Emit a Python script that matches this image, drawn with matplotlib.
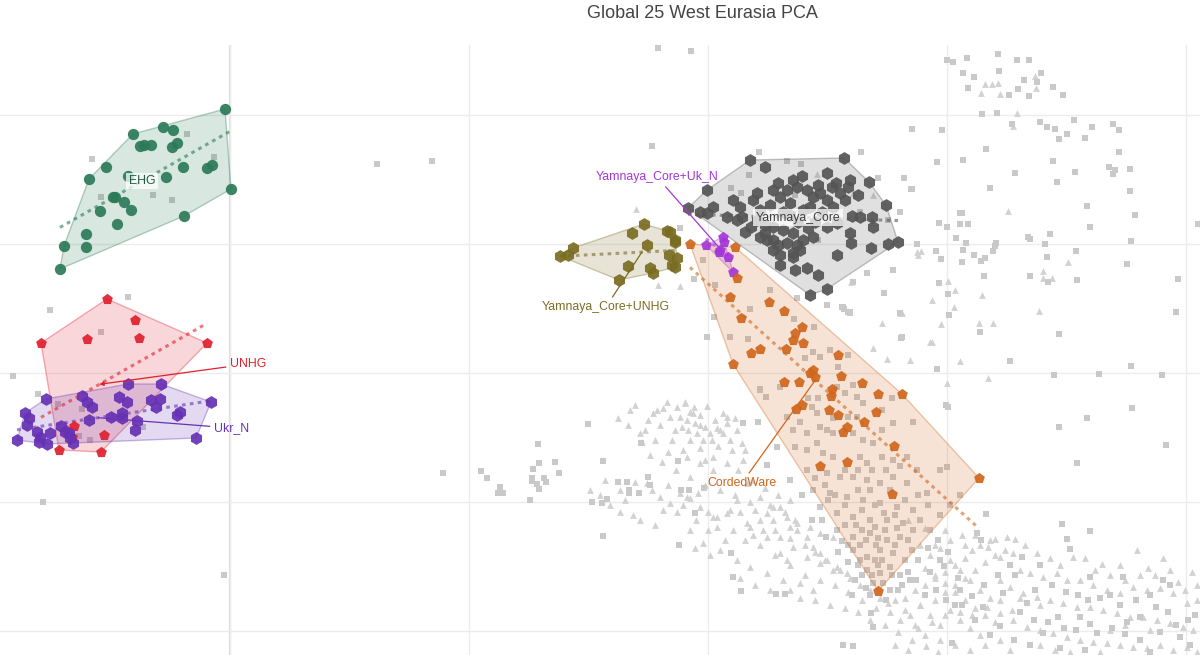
import numpy as np
import matplotlib
matplotlib.use("Agg")
from matplotlib import pyplot as plt

plt.rcParams['font.family'] = ['Liberation Sans', 'DejaVu Sans']

# PC1 / PC2 positions of samples (screen-like units, PC2 axis flipped)
ehg = [(225,109),(231,189),(184,216),(60,269),(64,246),(86,234),(86,247),(117,224),(100,211),
       (115,197),(113,197),(124,202),(131,210),(89,179),(106,167),(133,134),(163,127),(173,130),
       (140,146),(144,145),(151,145),(172,147),(177,143),(183,167),(166,177),(207,168),(212,165),(128,176)]
unhg = [(107,299),(135,320),(41,343),(87,339),(139,338),(207,343),(59,450),(101,452),(104,435),
        (74,426),(72,437),(66,430)]
ukr_n = [(128,384),(161,384),(46,399),(82,396),(87,402),(92,407),(119,397),(127,402),(151,400),
         (160,399),(156,407),(211,402),(25,413),(29,418),(27,425),(177,415),(180,412),(89,420),
         (111,417),(122,413),(122,418),(137,421),(61,426),(135,430),(17,440),(37,432),(40,437),
         (39,442),(47,444),(50,433),(65,432),(69,433),(73,443),(70,438),(196,438)]
yam_core = [(750,160),(765,167),(844,158),(827,173),(836,183),(832,187),(850,180),(848,187),(869,182),
            (886,205),(872,217),(898,242),(888,244),(871,248),(851,243),(852,216),(837,255),(827,289),
            (810,295),(818,275),(807,268),(793,253),(800,250),(780,255),(773,250),(767,240),(760,237),
            (751,227),(757,193),(773,190),(780,197),(787,190),(793,180),(797,187),(807,190),(813,197),
            (820,193),(827,200),(833,207),(810,207),(803,210),(753,200),(760,210),(733,200),(740,207),
            (727,217),(737,220),(707,190),(700,212),(707,213),(713,207),(688,208),(773,227),(783,230),
            (793,233),(803,240),(813,237),(827,227),(837,223),(773,240),(787,243),(793,257),(850,233),
            (860,217),(873,227),(840,193),(757,220),(745,232),(790,215),(815,222),(778,183),(802,176),
            (818,185),(790,203),(765,225),(778,245),(797,245),(808,228),(822,212),(845,200),(858,195),
            (770,205),(783,212),(798,222),(742,217),(780,265),(795,270),(765,233)]
yam_unhg = [(560,256),(568,255),(573,248),(632,233),(644,224),(667,231),(675,240),(670,232),(647,245),
            (628,266),(619,280),(650,268),(653,273),(669,255),(672,265),(677,258),(675,267),(675,242)]
yam_ukn = [(706,245),(723,237),(724,242),(719,252),(728,257),(733,272),(720,250)]
corded = [(690,244),(735,247),(737,278),(730,297),(769,302),(784,311),(741,318),(802,327),(795,333),
          (793,340),(803,343),(786,349),(751,353),(760,349),(733,364),(838,355),(813,370),(810,373),
          (815,377),(841,376),(784,382),(799,382),(862,383),(878,394),(902,394),(832,389),(831,396),
          (802,405),(796,409),(829,410),(838,415),(876,412),(864,422),(847,427),(843,432),(894,446),
          (820,466),(847,462),(979,478),(892,494),(878,591)]

# reference panel (grey)
ref_squares = [
    (377,164),(432,161),(652,146),(658,48),(691,51),(187,134),(92,159),(101,197),(153,195),(172,200),
    (214,157),(128,297),(50,310),(101,332),(13,376),(38,394),(58,404),(82,409),(143,427),(90,440),
    (79,436),(43,502),(224,575),(443,473),(481,471),(487,478),(500,487),(498,493),(503,493),(538,444),
    (539,463),(533,469),(532,478),(532,481),(537,484),(539,489),(544,478),(546,482),(555,462),(559,473),
    (530,500),(588,424),(603,461),(592,502),(602,503),(607,499),(603,536),(618,482),(627,482),(629,490),
    (629,493),(639,493),(648,477),(650,485),(678,461),(679,545),(681,490),(689,490),(695,513),(704,488),
    (733,577),(741,591),(776,594),(785,594),(843,645),(853,646),(871,613),(873,627),(731,553),(743,423),
    (758,422),(760,390),(641,443),
    (947,60),(953,62),(967,58),(998,54),(1017,60),(1029,60),(963,73),(974,77),(999,71),(968,88),
    (1009,95),(1018,89),(1024,80),(1037,82),(1041,73),(1029,96),(1053,87),(1063,95),(982,114),(997,113),
    (1012,124),(1040,122),(1047,127),(1055,129),(1059,139),(1067,134),(1074,120),(1085,138),(1092,127),
    (1113,124),(1119,130),(1119,152),(912,129),(942,130),(986,149),(937,162),(963,160),(1053,161),
    (1015,173),(1075,172),(1109,167),(1115,170),(1113,174),(1130,169),(904,178),(912,189),(990,188),
    (1057,182),(1130,191),(1087,206),(1135,215),(960,213),(962,213),(939,223),(947,227),(960,224),
    (968,224),(1090,227),(1198,224),(956,238),(966,243),(917,244),(936,251),(941,259),(963,250),
    (962,262),(974,255),(981,261),(985,258),(993,251),(995,246),(996,243),(1028,237),(1030,239),
    (1050,234),(1045,244),(1047,257),(1076,251),(1131,241),(1127,264),(984,276),(1030,276),(1048,282),
    (1077,280),(939,283),(948,294),(949,315),(980,332),(1059,334),(1178,279),(1176,312),(902,337),
    (759,152),(861,152),(787,161),(801,164),(749,175),(731,188),(878,178),(911,189),(741,193),(900,212),
    (860,212),(680,228),(818,240),(888,220),(867,273),(884,293),(853,282),(900,313),(842,307),(850,313),
    (795,195),
    (703,260),(694,279),(715,285),(770,290),(797,298),(750,309),(714,317),(707,337),(730,337),(748,339),
    (794,319),(814,327),(844,309),(850,312),(827,305),(813,352),(820,357),(805,358),(830,350),(848,355),
    (838,367),(760,389),(766,397),(780,387),(808,398),(818,398),(837,387),(853,385),(845,393),(857,397),
    (863,403),(892,398),(882,410),(848,417),(857,417),(812,407),(817,413),(787,417),(800,422),(833,418),
    (820,427),(827,430),(833,433),(853,433),(863,440),(873,443),(793,430),(807,433),(882,430),(893,423),
    (913,422),(882,457),(893,460),(907,457),(795,447),(807,450),(817,443),(823,453),(833,457),(860,457),
    (867,463),(777,447),(767,465),(807,470),(827,473),(840,477),(853,477),(867,480),(880,483),(893,477),
    (907,483),(917,470),(927,493),(940,470),(947,467),(813,490),(830,493),(847,497),(863,500),(880,503),
    (897,507),(913,510),(820,507),(837,513),(853,517),(870,520),(887,520),(903,523),(837,530),(853,537),
    (870,533),(887,540),(900,537),(913,530),(853,550),(867,557),(880,550),(893,553),(867,570),(880,573),
    (890,567),(873,583),(883,583),(845,525),(860,545),(875,560),(895,545),(905,560),(875,527),(862,510),
    (884,513),(897,528),(842,541),(858,565),(900,575),(890,590),(870,595),(855,580),
    (917,244),(936,251),(884,293),(893,270),(901,338),(946,405),(937,369),(843,307),(848,312),
    (1010,361),(1131,366),(1054,375),(1099,374),(1162,375),(948,407),(1132,408),(1087,418),(1059,427),
    (1166,445),(1077,463),(986,514),(1062,524),(1090,531),(1067,539),(1070,549),(981,540),(977,533),
    (1123,577),(1090,577),(1150,595),(1163,580),(1170,585),(1110,595),(1140,617),(1127,622),(1080,617),
    (1058,617),(1027,603),(1003,593),(983,607),(955,605),(990,635),(952,643),(1043,633),(1097,633),
    (1180,637),(910,580),(925,595),(940,560),(960,590),(975,620),(1015,575),(1035,590),(1195,615),
    (812,520),(826,537),(838,552),(848,562),(862,575),(878,565),(866,588),(852,595),(886,600),(898,590),
    (908,572),(918,560),(928,548),(938,540),(948,552),(916,580),(930,572),(944,566),(958,578),(936,590),
    (946,600),(962,605),(972,596),(984,585),(998,575),(1010,565),(1022,557),(1040,565),(1052,585),
    (1066,592),(1078,595),(1088,600),(1100,598),(1120,605),(1136,600),(1156,607),(1168,612),(1188,620),
    (1020,612),(1034,620),(1048,622),(1064,628),(1076,630),(1090,624),(1112,628),(1125,634),(1140,640),
    (1160,632),(1176,625),(1190,645),(1000,626),(1014,640),(1030,645),(1060,648),(1085,650),(1150,652),
    (790,480),(802,495),(828,500),(858,490),(872,470),(886,470),(900,466),(875,505),(908,540),(822,520),
    (845,505),(856,525),(866,540),(876,545),(885,530),(895,515),(905,500),(918,495),(928,505),(848,545),
    (860,560),(872,575),(882,560),(892,575),(902,585),(912,550),(920,520),(930,530),(940,515),(950,505),
    (960,495),(835,495),(825,485),(815,478),(845,470),(858,470),(870,490),(890,490),(862,530),(878,538)]
ref_triangles = [
    (630,410),(640,433),(645,430),(653,413),(657,410),(663,408),(670,417),(677,407),(680,417),(685,402),
    (687,420),(690,412),(695,423),(700,415),(705,427),(707,406),(712,440),(717,428),(723,413),(727,423),
    (732,450),(737,430),(642,442),(668,452),(683,450),(690,440),(697,433),(723,433),(742,443),(713,457),
    (705,460),
    (590,490),(620,512),(633,515),(635,482),(647,483),(652,490),(660,497),(670,503),(663,510),(677,512),
    (680,493),(690,498),(698,493),(708,512),(713,517),(717,527),(727,513),(737,500),(740,512),(750,527),
    (753,535),(767,513),(773,520),(780,507),(787,517),(790,527),(797,530),(807,537),(813,547),(820,553),
    (827,560),(837,567),(847,573),(767,537),(780,553),(787,560),(797,523),(810,527),(820,533),(833,537),
    (685,403),(693,413),(688,430),(703,440),(720,430),(727,417),(687,457),(700,463),(713,470),(727,463),
    (743,460),(747,483),(760,497),(773,507),(687,497),(700,507),(717,517),(730,510),(747,523),(763,530),
    (780,537),(793,547),(807,557),(820,563),(833,570),(690,530),(703,543),(720,550),(737,560),(750,567),
    (767,573),(783,580),(800,583),(813,590),
    (770,505),(785,512),(795,520),(760,520),(775,530),(790,538),(805,545),(815,552),(825,560),(840,570),
    (850,578),(860,585),(870,590),(880,598),(895,600),(905,598),(915,590),(925,585),(935,578),(945,572),
    (955,565),(965,558),(972,550),(980,545),(990,540),(905,610),(920,605),(935,600),(945,592),(955,585),
    (965,578),(975,570),(985,562),(995,555),(1005,550),(890,612),(900,620),
    (920,545),(930,555),(940,548),(950,560),(960,570),(970,580),(980,590),(990,598),(925,568),(935,575),
    (945,583),(955,592),(965,600),(975,608),(985,615),(995,622),(950,610),(960,620),(970,628),(980,635),
    (940,625),(930,615),(920,605),(910,615),(915,625),(925,635),(940,640),(955,645),(970,650),(985,645),
    (1000,640),(1010,650),
    (995,539),(1007,537),(1015,539),(988,547),(1000,557),(1013,553),(1037,553),(1050,558),(1073,557),
    (1085,558),(1102,564),(1120,565),(1137,550),(1148,568),(1163,558),(1178,582),(1192,572),
    (1020,570),(1030,573),(1043,577),(1057,573),(1067,580),(1080,580),(1093,585),(1107,590),(1120,593),
    (1133,587),(1147,590),(1160,588),(1173,593),(1187,603),(1197,600),
    (1000,580),(1010,587),(1023,593),(1037,597),(1050,600),(1063,603),(1077,607),(1090,607),(1103,610),
    (1117,613),(1130,617),(1143,617),(1157,620),(1170,623),(1183,627),(1193,630),
    (987,607),(1000,613),(1013,620),(1027,627),(1040,630),(1053,633),(1067,637),(1080,640),(1093,642),
    (1107,643),(1120,645),(1133,647),(1147,648),(1160,645),(1173,650),(1187,647),(1197,652),
    (985,84),(992,84),(998,83),(981,93),(1000,94),(1035,76),(1036,88),(1017,113),(1013,126),(1008,211),
    (921,251),(918,255),(1068,262),(1043,271),(1043,278),(1052,278),(948,281),(955,290),(982,295),
    (932,300),(954,307),(1039,311),(902,313),(941,324),(979,323),(993,323),(932,342),
    (636,209),(817,174),(853,193),(873,195),(917,252),(658,285),(680,286),(851,282),
    (900,313),(882,323),(930,342),(873,348),(910,360),(887,359),(988,378),(960,361),(947,383),
    (908,520),(925,528),(945,530),(962,535),(1040,605),(1150,630),
    (648,420),(660,425),(675,430),(700,425),(715,420),(730,440),(745,450),(650,455),(662,462),(676,470),
    (690,477),(705,485),(720,490),(735,495),(750,502),(625,500),(610,505),(600,495),(640,520),(655,525),
    (760,545),(775,555),(790,565),(805,575),(820,580),(835,585),(848,592),(862,600),(876,608),(888,603),
    (898,632),(912,640),(926,646),(938,652),(1020,598),(1000,600),(1012,610),
    (635,405),(667,402),(682,427),(694,407),(710,433),(735,418),(618,418),(628,425),(700,448),(718,446),
    (655,440),(672,440),(738,470),(752,480),(765,488),(778,495),(790,500),(755,510),(745,540),(733,530),
    (620,490),(605,480),(668,485),(683,505),(696,520),(708,530),(725,540),(710,555),(695,548),(740,578),
    (755,585),(770,590),(790,590),(800,598),(815,600),(830,605),(845,608),(858,612),(870,620),(885,625),
    (895,645),(908,650),(918,628),(932,622),(945,615),(960,612),(972,615),(935,545),(950,540),(965,545),
    (975,535),(1025,545),(1060,565),(1095,570),(1110,575),(1125,580),(1140,575),(1155,575),(1170,570),
    (1185,590),(1197,585),(1110,630),(1125,625),(1040,645),(1055,650),(1070,652),(1100,652)]

groups = ['EHG', 'UNHG', 'Ukr_N', 'Yamnaya_Core', 'Yamnaya_Core+UNHG', 'Yamnaya_Core+Uk_N', 'CordedWare']
group_points = [ehg, unhg, ukr_n, yam_core, yam_unhg, yam_ukn, corded]
colors = ['#2b7a58', '#e0202f', '#6632b4', '#555555', '#7a6d22', '#a336d8', '#d0661c']
markers = ['o', 'p', 'h', 'h', 'h', 'p', 'p']
# label placement: None -> on centroid with a box, else text position with a leader line
label_pos = [None, (230, 364), (214, 428), None, (606, 307), (657, 177), (742, 483)]
label_ha = ['center', 'left', 'left', 'center', 'center', 'center', 'center']


def convex_hull(pts):
    pts = sorted(set(map(tuple, pts)))
    def cross(o, a, b):
        return (a[0]-o[0])*(b[1]-o[1]) - (a[1]-o[1])*(b[0]-o[0])
    lower, upper = [], []
    for p in pts:
        while len(lower) >= 2 and cross(lower[-2], lower[-1], p) <= 0:
            lower.pop()
        lower.append(p)
    for p in reversed(pts):
        while len(upper) >= 2 and cross(upper[-2], upper[-1], p) <= 0:
            upper.pop()
        upper.append(p)
    return np.array(lower[:-1] + upper[:-1])


fig = plt.figure(figsize=(12, 6.55), dpi=100)
ax = fig.add_axes([0, 0, 1, 1 - 45/655])

sq = np.array(ref_squares)
tr = np.array(ref_triangles)
ax.scatter(tr[:, 0], tr[:, 1], marker='^', s=24, color='#d2d2d2', linewidths=0, zorder=1)
ax.scatter(sq[:, 0], sq[:, 1], marker='s', s=22, color='#c9c9c9', linewidths=0, zorder=1)

for name, pts, c, m, lp, ha in zip(groups, group_points, colors, markers, label_pos, label_ha):
    p = np.array(pts, dtype=float)
    hull = convex_hull(p)
    ax.fill(hull[:, 0], hull[:, 1], color=c, alpha=0.18, lw=0, zorder=2)
    ax.fill(hull[:, 0], hull[:, 1], facecolor='none', edgecolor=c, alpha=0.35, lw=1, zorder=2)
    k, b = np.polyfit(p[:, 0], p[:, 1], 1)
    xs = np.array([p[:, 0].min(), p[:, 0].max()])
    ax.plot(xs, k*xs + b, color=c, alpha=0.6, lw=2.2, ls=(0, (1.2, 1.4)), zorder=3)
    ax.scatter(p[:, 0], p[:, 1], marker=m, s=85 if m == 'h' else 66, color=c,
               alpha=0.92, linewidths=0, zorder=4)
    cx, cy = p[:, 0].mean(), p[:, 1].mean()
    if lp is None:
        ax.text(cx, cy, name, ha='center', va='center', fontsize=8.8,
                color='#3d3d3d' if name != 'EHG' else '#1f5e43',
                zorder=6, bbox=dict(boxstyle='square,pad=0.2', fc='white', ec='none', alpha=0.75))
    else:
        ax.annotate(name, xy=(cx, cy), xytext=lp, ha=ha, va='center', fontsize=8.8, color=c,
                    zorder=6, arrowprops=dict(arrowstyle='-|>' if name == 'UNHG' else '-',
                                              color=c, lw=0.9, mutation_scale=6, shrinkA=1, shrinkB=0))

ax.set_xticks(np.arange(230, 1200, 239))
ax.set_yticks(np.arange(115, 655, 129))
ax.set_xlim(0, 1200)
ax.set_ylim(655, 45)
ax.grid(True, color='#ececec', lw=1, zorder=0)
ax.axvline(230, color='#dedede', lw=1.6, zorder=0)
ax.tick_params(length=0, labelbottom=False, labelleft=False)
for s in ax.spines.values():
    s.set_visible(False)
ax.set_axisbelow(True)

fig.text(702/1200, 1 - 13/655, 'Global 25 West Eurasia PCA', ha='center', va='center',
         fontsize=13, color='#444444')

fig.savefig('out.png', dpi=100)
